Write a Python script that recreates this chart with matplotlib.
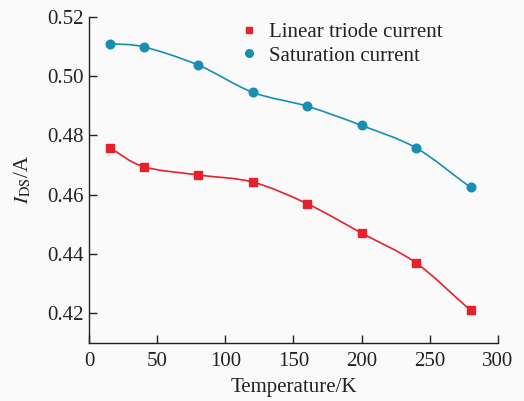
import numpy as np
import matplotlib
matplotlib.use("Agg")
import matplotlib.pyplot as plt
from matplotlib.path import Path
from matplotlib.patches import PathPatch
from matplotlib.lines import Line2D

plt.rcParams['font.family'] = ['Liberation Serif', 'DejaVu Serif']
plt.rcParams['mathtext.fontset'] = 'stix'

# data
temperature = [15, 40, 80, 120, 160, 200, 240, 280]
linear_current = [0.4758, 0.4694, 0.4666, 0.4642, 0.4569, 0.4470, 0.4369, 0.4209]
saturation_current = [0.5109, 0.5098, 0.5037, 0.4945, 0.4898, 0.4833, 0.4757, 0.4624]

red = '#e8202a'
teal = '#168fb2'


def smooth_path(x, y):
    # catmull-rom through the points, drawn as bezier segments
    x = np.asarray(x, float)
    y = np.asarray(y, float)
    px = np.concatenate([[2 * x[0] - x[1]], x, [2 * x[-1] - x[-2]]])
    py = np.concatenate([[2 * y[0] - y[1]], y, [2 * y[-1] - y[-2]]])
    verts = [(x[0], y[0])]
    codes = [Path.MOVETO]
    for i in range(1, len(px) - 2):
        c1 = (px[i] + (px[i + 1] - px[i - 1]) / 6, py[i] + (py[i + 1] - py[i - 1]) / 6)
        c2 = (px[i + 1] - (px[i + 2] - px[i]) / 6, py[i + 1] - (py[i + 2] - py[i]) / 6)
        verts += [c1, c2, (px[i + 1], py[i + 1])]
        codes += [Path.CURVE4] * 3
    return Path(verts, codes)


fig = plt.figure(figsize=(5.24, 4.01), dpi=100, facecolor='#fafafa')
ax = fig.add_axes([0.170, 0.1454, 0.780, 0.8130])
ax.set_facecolor('#fafafa')

ax.add_patch(PathPatch(smooth_path(temperature, linear_current), fill=False, edgecolor=red, lw=1.2))
ax.add_patch(PathPatch(smooth_path(temperature, saturation_current), fill=False, edgecolor=teal, lw=1.2))
ax.plot(temperature, linear_current, 's', color=red, ms=5.6, label='Linear triode current')
ax.plot(temperature, saturation_current, 'o', color=teal, ms=6.2, label='Saturation current')

ax.set_xlim(0, 300)
ax.set_ylim(0.41, 0.52)
ax.set_xticks([0, 50, 100, 150, 200, 250, 300])
ax.set_yticks([0.42, 0.44, 0.46, 0.48, 0.50, 0.52])
ax.set_yticklabels(['0.42', '0.44', '0.46', '0.48', '0.50', '0.52'])
ax.tick_params(direction='in', length=5.5, width=1, labelsize=15, colors='#222222', pad=4)
ax.tick_params(axis='x', pad=7)
ax.spines['top'].set_visible(False)
ax.spines['right'].set_visible(False)
for s in ['left', 'bottom']:
    ax.spines[s].set_color('#222222')
    ax.spines[s].set_linewidth(1)

ax.set_xlabel('Temperature/K', fontsize=15, color='#222222', labelpad=5)
ax.set_ylabel(r'$I_{\mathrm{DS}}$/A', fontsize=15, color='#222222', labelpad=10)

handles = [Line2D([], [], ls='none', marker='s', color=red, ms=5),
           Line2D([], [], ls='none', marker='o', color=teal, ms=5.5)]
ax.legend(handles, ['Linear triode current', 'Saturation current'], loc='upper right',
          bbox_to_anchor=(0.91, 1.04), frameon=False, fontsize=15, handlelength=0.7,
          handletextpad=0.6, labelspacing=0.2, labelcolor='#222222')

fig.savefig('out.png', dpi=100, facecolor=fig.get_facecolor())
